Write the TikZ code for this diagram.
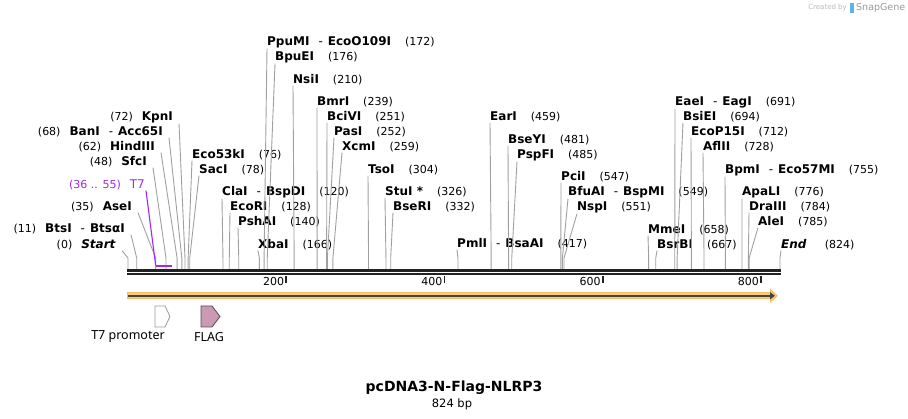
\documentclass[tikz,border=0pt]{standalone}
\usepackage{fontspec}
\setmainfont{DejaVu Sans}[ItalicFont={DejaVu Sans Oblique},BoldItalicFont={DejaVu Sans Bold Oblique}]
\newfontfamily\featfont{Noto Sans}
\usepackage{tikz}
\usetikzlibrary{
  arrows.meta,
}

\definecolor{leadergray}{RGB}{160,160,160}
\definecolor{rulerdark}{RGB}{34,34,34}
\definecolor{tsevenpurple}{RGB}{160,40,240}
\definecolor{bandorange}{RGB}{250,204,128}
\definecolor{bandedge}{RGB}{246,190,100}
\definecolor{flagpink}{RGB}{204,153,180}
\definecolor{logoblue}{RGB}{90,180,230}

\newcommand\enz[1]{{\fontsize{12}{14}\selectfont\bfseries #1}}
\newcommand\isoalt{\hspace{9pt}{\mdseries-}\hspace{5pt}}
\newcommand\bpx[1]{128+#1*0.79126}

\tikzset{
  leader/.style={draw=leadergray, line width=0.9pt},
  enzyme/.style={inner sep=0pt, font=\fontsize{11}{13}\selectfont},
  ruler/.style={draw=rulerdark, line width=2.6pt},
  tickmark/.style={draw=rulerdark, line width=1.6pt},
  feature/.style={inner sep=0pt, font=\featfont\fontsize{12.5}{14}\selectfont},
}

\begin{document}
\begin{tikzpicture}[x=1pt,y=-1pt]
\useasboundingbox (0,0) rectangle (908,419);

\draw[ruler] (127,270.6) -- (781,270.6);
\draw[ruler] (127,274.2) -- (781,274.2);
\foreach \t in {200,400,600,800} {
  \draw[tickmark] ({\bpx{\t}},276) -- ++(0,7);
  \node[enzyme, anchor=east] (tick\t) at ({\bpx{\t}-2},281.5) {\t};
}

\foreach[count=\k] \bp/\lx/\yc/\enzname in {
  76/192/155/Eco53kI, 78/199/170/SacI, 120/222/192/ClaI\isoalt BspDI,
  128/230/207/EcoRI, 140/238/222/PshAI, 166/258/245/XbaI,
  172/267/42/PpuMI\isoalt EcoO109I, 176/275/57/BpuEI, 210/293/80/NsiI,
  239/317/102/BmrI, 251/327/117/BciVI, 252/334/132/PasI, 259/342/147/XcmI,
  304/368/170/TsoI, 326/385/192/StuI *, 332/393/207/BseRI,
  417/457/244/PmlI\isoalt BsaAI, 459/490/117/EarI, 481/508/140/BseYI,
  485/517/155/PspFI, 547/561/177/PciI, 549/568/192/BfuAI\isoalt BspMI,
  551/577/207/NspI, 658/648/230/MmeI, 667/657/245/BsrBI,
  691/675/102/EaeI\isoalt EagI, 694/683/117/BsiEI, 712/691/132/EcoP15I,
  728/703/147/AflII, 755/725/170/BpmI\isoalt Eco57MI, 776/742/192/ApaLI,
  784/749/207/DraIII, 785/758/222/AleI, 824/781/245/\textit{End}
} {
  \coordinate (cut\k) at ({\bpx{\bp}},269);
  \coordinate (knee\k) at ({\bpx{\bp}},258);
  \node[enzyme, anchor=base west] (site\k) at (\lx,\yc+4) {\enz{\enzname}\hspace{14pt}(\bp)};
  \draw[leader] (site\k.south west) -- (knee\k) -- (cut\k);
}

\foreach[count=\k] \bp/\rx/\yc/\enzname in {
  0/116/245/\textit{Start}, 11/125/229/BtsI\isoalt BtsαI, 35/132/207/AseI,
  48/147/162/SfcI, 62/155/147/HindIII, 68/163/132/BanI\isoalt Acc65I,
  72/173/117/KpnI
} {
  \coordinate (lcut\k) at ({\bpx{\bp}},269);
  \coordinate (lknee\k) at ({\bpx{\bp}},258);
  \node[enzyme, anchor=base east] (lsite\k) at (\rx,\yc+4) {(\bp)\hspace{9pt}\enz{\enzname}};
  \draw[leader] ([xshift=6pt]lsite\k.south east) -- (lknee\k) -- (lcut\k);
}

\coordinate (tsevenA) at ({\bpx{35}},265.6);
\coordinate (tsevenB) at ({\bpx{55}},265.6);
\draw[tsevenpurple, line width=2pt] (tsevenA) -- (tsevenB);
\node[enzyme, text=tsevenpurple, anchor=base east] (tsevenlbl) at (145,189) {(36 .. 55)\hspace{9pt}{\fontsize{12}{14}\selectfont T7}};
\draw[tsevenpurple, line width=1.1pt] ([xshift=1pt]tsevenlbl.south east) -- (tsevenA);

\draw[bandedge, line width=7pt, -{Triangle[length=8pt,width=14pt]}] (127,295.8) -- (778,295.8);
\draw[bandorange, line width=5pt, -{Triangle[length=6pt,width=10pt]}] (128,295.8) -- (776.5,295.8);
\draw[rulerdark!85, line width=2pt, -{Triangle[length=5pt,width=7pt]}] (128,295.8) -- (775,295.8);

\draw[gray!80, fill=white, line width=0.8pt] (155,306) -- (165,306) -- (170,316.5) -- (165,327) -- (155,327) -- cycle;
\draw[rulerdark!80, fill=flagpink, line width=0.8pt] (201,306) -- (212,306) -- (220,316.5) -- (212,327) -- (201,327) -- cycle;
\node[feature] (tsevenprom) at (128,337) {T7 promoter};
\node[feature] (flag) at (209,337) {FLAG};

\node[font=\fontsize{14}{16}\selectfont\bfseries] (title) at (454,388) {pcDNA3-N-Flag-NLRP3};
\node[font=\fontsize{11.5}{13}\selectfont] (length) at (452,404) {824 bp};

\node[anchor=east, text=gray!55, inner sep=0pt, font=\fontsize{7}{8}\selectfont] (credit) at (847,8) {Created by};
\fill[logoblue] (850,3) rectangle (853.5,13);
\node[anchor=west, text=gray!80, inner sep=0pt, font=\fontsize{9.5}{10}\selectfont] (snapgene) at (856,8) {SnapGene};
\end{tikzpicture}
\end{document}
